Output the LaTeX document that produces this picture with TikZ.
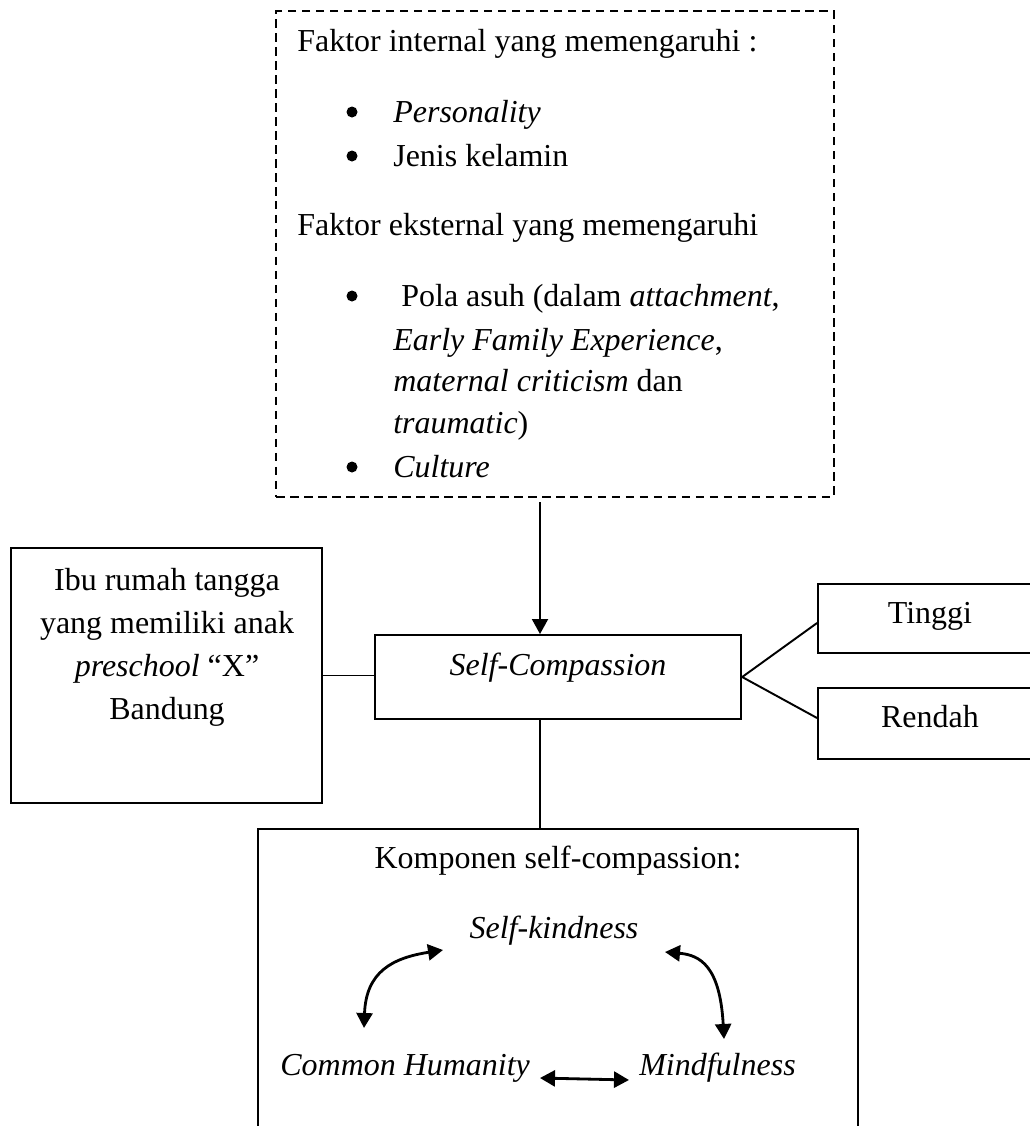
\documentclass[tikz,border=0pt]{standalone}
\usepackage{fontspec}
\setmainfont{Liberation Serif}
\usetikzlibrary{arrows.meta}
\begin{document}
\begin{tikzpicture}[x = 0.02cm, y = -0.02cm, >={Triangle[length = 0.3cm, width = 0.32cm]},
    font = \fontsize{18.2}{24.5}\selectfont]
    \useasboundingbox (0, 0) rectangle (1030, 1126);
    \clip (0, 0) rectangle (1030, 1126);

    \tikzstyle{frame} = [draw, line width = 1.1pt, inner sep = 0pt]
    \tikzstyle{txt} = [inner sep = 0pt, anchor = base west]
    \tikzstyle{mid} = [inner sep = 0pt, anchor = base]
    \tikzstyle{dot} = [circle, fill, inner sep = 0pt, minimum size = 0.22cm]
    \tikzstyle{link} = [line width = 1.1pt]
    \tikzstyle{swap} = [<->, line width = 1.6pt]

    \node[frame, dash pattern = on 0.17cm off 0.11cm, minimum width = 11.16cm, minimum height = 9.72cm] (faktor) at (555, 254) {};
    \node[txt] (intern) at (297, 51) {Faktor internal yang memengaruhi :};
    \node[dot] (dot1) at (352, 112) {};
    \node[txt] (pers) at (393, 122) {\textit{Personality}};
    \node[dot] (dot2) at (352, 156) {};
    \node[txt] (jenis) at (393, 166) {Jenis kelamin};
    \node[txt] (extern) at (297, 235) {Faktor eksternal yang memengaruhi};
    \node[dot] (dot3) at (352, 296) {};
    \node[txt] (pola) at (401, 306) {Pola asuh (dalam \textit{attachment},};
    \node[txt] (early) at (393, 350) {\textit{Early Family Experience},};
    \node[txt] (mat) at (393, 391) {\textit{maternal criticism} dan};
    \node[txt] (trau) at (393, 433) {\textit{traumatic})};
    \node[dot] (dot4) at (352, 467) {};
    \node[txt] (cult) at (393, 477) {\textit{Culture}};

    \node[frame, minimum width = 7.33cm, minimum height = 1.68cm] (sc) at (558, 677) {};
    \node[mid] (sctext) at (558, 675) {\textit{Self-Compassion}};

    \node[frame, minimum width = 6.22cm, minimum height = 5.1cm] (ibu) at (166.5, 675.5) {};
    \node[inner sep = 0pt, anchor = north, align = center] (ibutext) at (167, 568)
        {Ibu rumah tangga\\yang memiliki anak\\\textit{preschool} “X”\\Bandung};

    \node[frame, minimum width = 4.48cm, minimum height = 1.38cm] (tinggi) at (930, 618.5) {};
    \node[mid] (tinggitext) at (930, 623) {Tinggi};
    \node[frame, minimum width = 4.48cm, minimum height = 1.42cm] (rendah) at (930, 723.5) {};
    \node[mid] (rendahtext) at (930, 727) {Rendah};

    \node[frame, minimum width = 12cm, minimum height = 6.64cm] (komp) at (558, 995) {};
    \node[mid] (komptext) at (558, 868) {Komponen self-compassion:};
    \node[mid] (kind) at (554, 938) {\textit{Self-kindness}};
    \node[txt] (common) at (280, 1075) {\textit{Common Humanity}};
    \node[txt] (mind) at (639, 1075) {\textit{Mindfulness}};

    \coordinate (spine) at (540, 502);
    \draw[->, link] (spine) -- (spine |- sc.north);
    \draw[link] (spine |- sc.south) -- (spine |- komp.north);
    \draw[link] (ibu.east) -- (ibu.east -| sc.west);
    \draw[link] (sc.east) -- ([yshift = -0.09cm] tinggi.west);
    \draw[link] (sc.east) -- ([yshift = 0.11cm] rendah.west);

    \coordinate (kl) at (443, 950);
    \coordinate (cl) at (364, 1028);
    \coordinate (kr) at (665, 952);
    \coordinate (mr) at (724, 1039);
    \coordinate (ch) at (540, 1078);
    \coordinate (mh) at (629, 1080);
    \draw[swap] (kl) .. controls (392, 958) and (366, 972) .. (cl);
    \draw[swap] (kr) .. controls (700, 955) and (720, 966) .. (mr);
    \draw[swap] (ch) -- (mh);
\end{tikzpicture}
\end{document}
